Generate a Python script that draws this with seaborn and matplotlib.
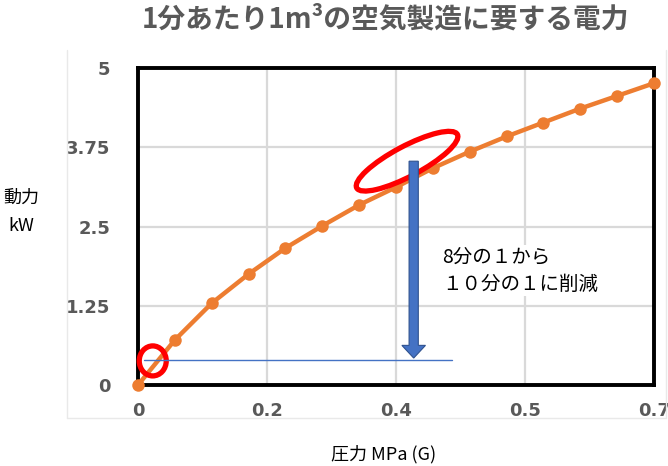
import numpy as np
import pandas as pd
import matplotlib
matplotlib.use("Agg")
import matplotlib.pyplot as plt
import seaborn as sns
from matplotlib.patches import Ellipse
from matplotlib.transforms import ScaledTranslation
from matplotlib.lines import Line2D

# ---- data ----
pressure = [0.0, 0.05, 0.10, 0.15, 0.20, 0.25, 0.30, 0.35, 0.40, 0.45,
            0.50, 0.55, 0.60, 0.65, 0.70]
power = [0.0, 0.71, 1.29, 1.75, 2.16, 2.51, 2.84, 3.12, 3.42, 3.68,
         3.92, 4.14, 4.36, 4.56, 4.76]
x_tick_pos = [0.0, 0.175, 0.35, 0.525, 0.7]
x_tick_labels = ["0", "0.2", "0.4", "0.5", "0.7"]
y_ticks = [0, 1.25, 2.5, 3.75, 5]
y_tick_labels = ["0", "1.25", "2.5", "3.75", "5"]
title = "1分あたり1m³の空気製造に要する電力"
xlabel = "圧力 MPa (G)"
ylabel = "動力\nkW"
note = "8分の１から\n１０分の１に削減"

df = pd.DataFrame({"pressure": pressure, "power": power})

sns.set_theme(style="white")
plt.rcParams["font.family"] = ["Noto Sans CJK JP", "DejaVu Sans"]

fig = plt.figure(figsize=(6.68, 4.66), dpi=100)
ax = fig.add_axes([138 / 668, 1 - 385 / 466, (654 - 138) / 668, (385 - 68) / 466])

# faint chart-area frame
fig.add_artist(Line2D([67 / 668, 67 / 668], [1 - 418 / 466, 1 - 50 / 466],
                      transform=fig.transFigure, color="#e9e9e9", lw=1))
fig.add_artist(Line2D([67 / 668, 666 / 668], [1 - 418 / 466, 1 - 418 / 466],
                      transform=fig.transFigure, color="#e9e9e9", lw=1))
fig.add_artist(Line2D([666 / 668, 666 / 668], [1 - 418 / 466, 1 - 50 / 466],
                      transform=fig.transFigure, color="#e9e9e9", lw=1))

sns.lineplot(data=df, x="pressure", y="power", ax=ax, color="#ED7D31",
             linewidth=3.2, marker="o", markersize=9, markeredgewidth=0,
             clip_on=False, zorder=3)

ax.set_xlim(0, 0.7)
ax.set_ylim(0, 5)
ax.set_xticks(x_tick_pos)
ax.set_xticklabels(x_tick_labels)
ax.set_yticks(y_ticks)
ax.set_yticklabels(y_tick_labels)
ax.grid(True, color="#d9d9d9", linewidth=1.6)
ax.set_axisbelow(True)
for s in ax.spines.values():
    s.set_visible(True)
    s.set_color("black")
    s.set_linewidth(2.8)
    s.set_zorder(2)

ax.tick_params(axis="x", length=0, pad=12, labelsize=13, labelcolor="#595959")
ax.tick_params(axis="y", length=0, pad=20, labelsize=13, labelcolor="#595959")
for lab in ax.get_xticklabels() + ax.get_yticklabels():
    lab.set_fontweight("bold")
    lab.set_fontfamily(["DejaVu Sans"])

ax.set_xlabel("")
ax.set_ylabel("")
fig.text(384 / 668, 1 - 454 / 466, xlabel, ha="center", va="center",
         fontsize=13, color="black")
fig.text(21 / 668, 1 - 212 / 466, ylabel, ha="center", va="center",
         fontsize=13, color="black", linespacing=1.72)
fig.text(385 / 668, 1 - 20 / 466, title, ha="center", va="center",
         fontsize=20, fontweight="bold", color="#595959")

# red ellipses (sized in pixels, centred at data points)
def ring(xc, yc, w_px, h_px, angle):
    tr = fig.dpi_scale_trans + ScaledTranslation(xc, yc, ax.transData)
    e = Ellipse((0, 0), w_px / 100, h_px / 100, angle=angle, transform=tr,
                fill=False, edgecolor="#FF0000", linewidth=3.8, zorder=4,
                clip_on=False)
    ax.add_patch(e)

ring(0.020, 0.38, 27, 30, 0)
ring(0.365, 3.53, 114, 30, 28)

# blue arrow and reference line
ax.plot([0.008, 0.426], [0.40, 0.40], color="#4472C4", linewidth=1.0, zorder=5)
ax.arrow(0.374, 3.53, 0, 0.425 - 3.53, width=0.0125, head_width=0.032,
         head_length=0.2, length_includes_head=True, facecolor="#4472C4",
         edgecolor="#2F528F", linewidth=0.8, zorder=5)

ax.text(0.412, 1.80, note, ha="left", va="center", fontsize=14,
        color="black", linespacing=1.4, zorder=6,
        bbox=dict(facecolor="white", edgecolor="none", pad=1))

fig.savefig("out.png", dpi=100)
